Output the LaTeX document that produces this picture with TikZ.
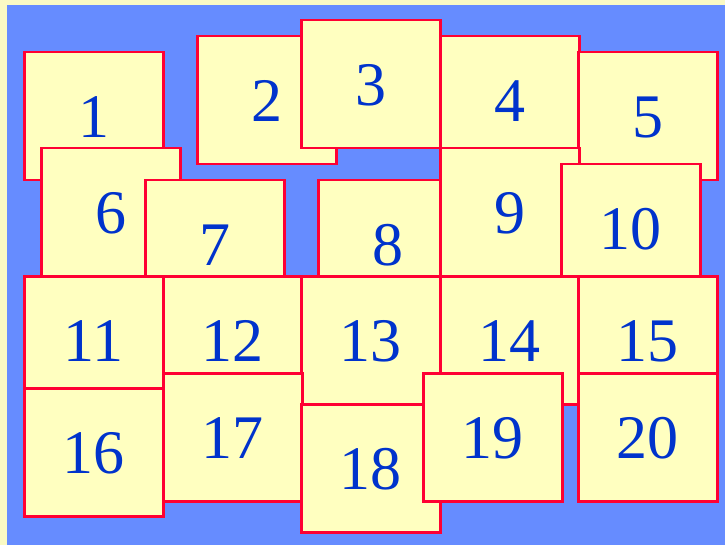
\documentclass[tikz,border=0pt]{standalone}
\usepackage{fontspec}
\setmainfont{Liberation Serif}
\definecolor{pagebg}{HTML}{FAFAC4}
\definecolor{bluebg}{HTML}{668CFF}
\definecolor{cardfill}{HTML}{FFFFC0}
\definecolor{cardedge}{HTML}{FF0033}
\definecolor{digitblue}{HTML}{0033CC}
\begin{document}
\begin{tikzpicture}[x=1pt,y=-1pt,
  card/.style={draw=cardedge, fill=cardfill, line width=2.5pt, anchor=north west,
    minimum width=139pt, minimum height=128pt, inner sep=0pt,
    text=digitblue, text height=43pt, text depth=0pt,
    font=\fontsize{62}{62}\selectfont}]
\fill[pagebg] (0,0) rectangle (725,545);
\useasboundingbox (0,0) rectangle (725,545);
\fill[bluebg] (7,5) rectangle (725,545);
\node[card] (b1) at (23,51) {1};
\node[card] (b2) at (196,35) {2};
\node[card] (b3) at (300,19) {3};
\node[card] (b4) at (439,35) {4};
\node[card] (b5) at (577,51) {5};
\node[card] (b6) at (40,147) {6};
\node[card] (b7) at (144,179) {7};
\node[card] (b8) at (317,179) {8};
\node[card] (b9) at (439,147) {9};
\node[card] (b10) at (560,163) {10};
\node[card] (b11) at (23,275) {11};
\node[card] (b12) at (162,275) {12};
\node[card] (b13) at (300,275) {13};
\node[card] (b14) at (439,275) {14};
\node[card] (b15) at (577,275) {15};
\node[card] (b16) at (23,387) {16};
\node[card] (b17) at (162,372) {17};
\node[card] (b18) at (300,403) {18};
\node[card] (b19) at (422,372) {19};
\node[card] (b20) at (577,372) {20};
\end{tikzpicture}
\end{document}
